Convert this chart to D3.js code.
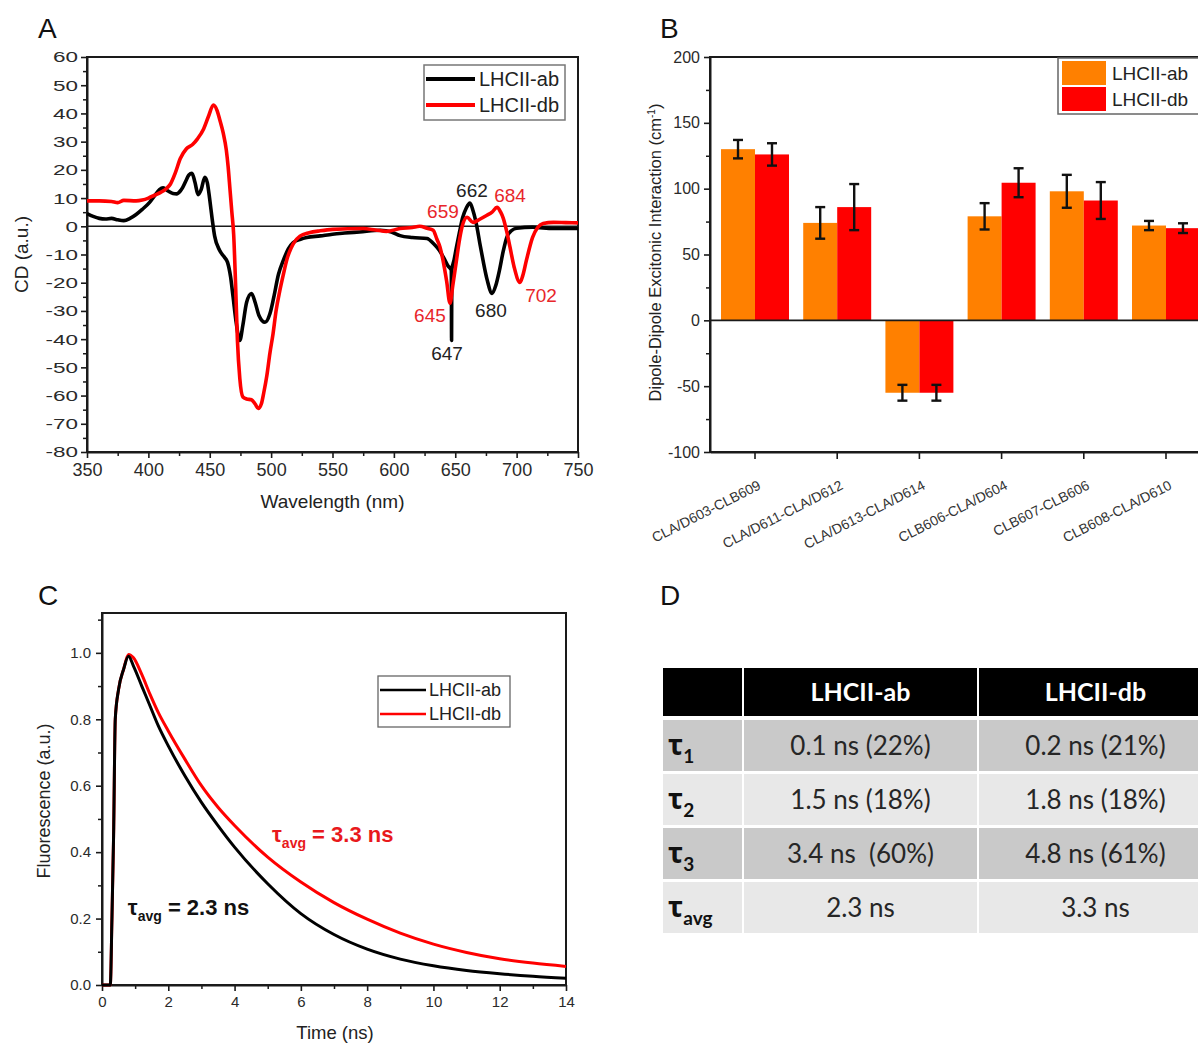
<!DOCTYPE html>
<html><head><meta charset="utf-8">
<script src="https://cdn.jsdelivr.net/npm/d3@7"></script>
<style>
body{margin:0;background:#fff;}
svg{display:block;}
</style></head><body>
<svg id="fig" width="1198" height="1043"></svg>
<script>
// ================= DATA =================
// Panel A: CD spectra [wavelength nm, CD a.u.]
const cdAb = [[350,4.5],[355,3.5],[360,2.8],[365,2.6],[370,2.8],[375,2.3],[380,2.0],[385,2.8],[390,4.2],[395,6.0],[401,8.5],[405,10.8],[409,13.0],[412,13.6],[416,12.5],[420,11.6],[423,11.5],[426,12.5],[428,13.8],[431,16.5],[433,18.2],[435.5,18.8],[438,15.5],[440.5,11.2],[443,13],[446,17.4],[448,15.5],[450,9.5],[452,2.5],[454,-3.5],[458,-8.5],[462,-11],[464.5,-12.8],[467,-18],[469,-25],[471.5,-34],[474.5,-40.5],[477,-35],[480,-27],[484,-23.8],[487,-27],[490,-31.5],[495,-34],[499,-31],[502,-25.5],[506,-17],[510,-12],[514,-8],[518,-5.8],[524,-4.6],[529,-4],[540,-3.4],[550,-2.8],[560,-2.4],[572,-2],[589,-1.4],[598,-2],[605,-3.3],[615,-4],[627,-4.3],[632,-6],[637,-8.5],[641,-11.5],[644,-14],[646.8,-15.5],[647,-40.5],[647.2,-15.5],[649,-12],[651,-7.4],[653.5,-2],[656,3],[659,6.5],[662,8.2],[664.5,5.5],[667.7,-0.3],[670,-6],[672.6,-12],[676,-19],[680,-23.8],[683,-21],[686,-15.6],[689,-9],[692,-3.9],[696,-1.5],[700,-0.7],[713,-0.3],[730,-0.8],[750,-0.8]];
const cdDb = [[350,9],[360,9],[370,8.8],[375,8.4],[380,9.2],[390,9],[395,9.3],[400,10],[405,11],[410,12],[415,13.5],[418,15],[422,19],[426,24],[431,27.5],[436,29],[440,31],[445,34.5],[449,39],[453,43],[456,41],[458,38],[461,33],[463.5,27],[465,21],[466.5,13],[468,5],[469.5,-3],[471,-20],[472.5,-40],[474.5,-54],[477,-60.5],[480,-61.2],[484,-61.5],[487,-63],[489.5,-64.6],[492,-63],[494,-59],[496.5,-53],[499,-45],[501.6,-38],[504,-30],[507,-23],[510,-17],[513,-11.5],[516,-8],[518,-6.2],[523.5,-3.5],[531,-2.3],[540,-1.6],[550,-1.1],[575,-0.8],[585,-1.3],[594,-1.8],[605,-0.8],[615,-0.4],[621,0],[627,-0.7],[632,-1.4],[635,-4.5],[637.6,-7.4],[640,-12],[643,-19.5],[645.7,-27.3],[648,-21],[651,-12],[653,-6],[655.5,-0.3],[659.6,3.2],[664.5,1.4],[670,2.5],[675.8,3.9],[680,5],[684,6.7],[687,5],[689,3],[692,-2],[694.6,-7.4],[698,-14.5],[702.7,-19.9],[705,-17.5],[708,-12],[713,-3.9],[717,-0.5],[721.5,1],[730,1.4],[740,1.3],[750,1.2]];
const seriesNames = ["LHCII-ab","LHCII-db"];
const cdXTicks = [350,400,450,500,550,600,650,700,750];
const cdXMinor = [375,425,475,525,575,625,675,725];
const cdYTicks = [-80,-70,-60,-50,-40,-30,-20,-10,0,10,20,30,40,50,60];
const cdYMinor = [-75,-65,-55,-45,-35,-25,-15,-5,5,15,25,35,45,55];
// peak labels: text, label anchor (wavelength, CD), series
const peakText = ["662","684","659","645","647","680","702"];
const peakAt = [[663.6,10.3],[694.6,8.5],[640,2.8],[629.4,-34],[643.3,-47.5],[679.1,-32.3],[719.9,-27]];
const peakSeries = ["ab","db","db","db","ab","ab","db"];

// Panel B: dipole-dipole excitonic interactions (cm-1)
const pairs = ["CLA/D603-CLB609","CLA/D611-CLA/D612","CLA/D613-CLA/D614","CLB606-CLA/D604","CLB607-CLB606","CLB608-CLA/D610"];
const abValues = [130,74,-55,79,98,72];
const abErrors = [7,12,6,10,12.5,3.5];
const dbValues = [126,86,-55,104.5,91,70];
const dbErrors = [8.5,17.5,6,11,14,3.7];
const bYTicks = [-100,-50,0,50,100,150,200];
const bYMinor = [-75,-25,25,75,125,175];

// Panel C: fluorescence decay
const timeNs = [0,0.25,0.3,0.35,0.4,0.5,0.65,0.8,0.95,1.2,1.45,1.7,2,2.5,3,3.5,4,5,6,7,8,9,10,11,12,13,14];
const flAb = [0,0,0.2,0.45,0.8,0.89,0.95,0.99,0.96,0.9,0.84,0.78,0.72,0.63,0.55,0.48,0.415,0.305,0.215,0.152,0.108,0.078,0.058,0.044,0.034,0.026,0.02];
const flDb = [0,0,0.2,0.45,0.8,0.89,0.95,0.995,0.985,0.935,0.875,0.82,0.765,0.68,0.6,0.535,0.48,0.385,0.31,0.248,0.198,0.156,0.123,0.098,0.079,0.066,0.056];
const cXTicks = [0,2,4,6,8,10,12,14];
const cXMinor = [1,3,5,7,9,11,13];
const cYTicks = [0,0.2,0.4,0.6,0.8,1.0];
const cYMinor = [0.1,0.3,0.5,0.7,0.9,1.1];
const tauAvgAb = "2.3 ns", tauAvgDb = "3.3 ns";

// Panel D: lifetime table
const tableHeader = ["LHCII-ab","LHCII-db"];
const rowSubs = ["1","2","3","avg"];
const abCells = ["0.1 ns (22%)","1.5 ns (18%)","3.4 ns  (60%)","2.3 ns"];
const dbCells = ["0.2 ns (21%)","1.8 ns (18%)","4.8 ns (61%)","3.3 ns"];

// ================= DRAWING =================
const FONT = "'Liberation Sans', Arial, sans-serif";
const svg = d3.select("#fig");
svg.append("rect").attr("width",1198).attr("height",1043).attr("fill","#fff");
const INK = "#1a1a1a";
const RED = "#ff0000";

function styleAxis(g, fs, color){
  g.attr("font-family", null).attr("font-size", null);
  g.select(".domain").attr("stroke", INK).attr("stroke-width", 2);
  g.selectAll(".tick line").attr("stroke", INK).attr("stroke-width", 1.6);
  g.selectAll(".tick text").attr("font-size", fs).attr("fill", color || "#2a2a2a").attr("font-family", FONT);
}
function minorAxis(parent, axisFn, scale, vals, size, transform){
  const g = parent.append("g").attr("transform", transform)
    .call(axisFn(scale).tickValues(vals).tickSize(size).tickSizeOuter(0).tickFormat(""));
  g.select(".domain").remove();
  g.selectAll(".tick line").attr("stroke", INK).attr("stroke-width", 1.5);
}
function panelLetter(t, x, y){
  svg.append("text").attr("x",x).attr("y",y).attr("font-family",FONT).attr("font-size",28).attr("fill","#111").text(t);
}

// ---------- Panel A ----------
{
  const L=87,R=578,T=57,B=452;
  const x = d3.scaleLinear().domain([350,750]).range([L,R]);
  const y = d3.scaleLinear().domain([-80,60]).range([B,T]);
  const g = svg.append("g");
  minorAxis(g, d3.axisBottom, x, cdXMinor, 4, `translate(0,${B})`);
  minorAxis(g, d3.axisLeft, y, cdYMinor, 4, `translate(${L},0)`);
  const gx = g.append("g").attr("transform",`translate(0,${B})`)
    .call(d3.axisBottom(x).tickValues(cdXTicks).tickSize(6).tickPadding(5).tickSizeOuter(0).tickFormat(d=>String(d)));
  styleAxis(gx, 18);
  const gy = g.append("g").attr("transform",`translate(${L},0)`)
    .call(d3.axisLeft(y).tickValues(cdYTicks).tickSize(6).tickPadding(3).tickSizeOuter(0).tickFormat(d=>String(d)));
  styleAxis(gy, 15.5);
  gy.selectAll(".tick text").attr("transform","scale(1.45,1)").attr("x",-9/1.45);
  g.append("rect").attr("x",L).attr("y",T).attr("width",R-L).attr("height",B-T)
    .attr("fill","none").attr("stroke",INK).attr("stroke-width",2);
  g.append("line").attr("x1",x(350)).attr("x2",x(750)).attr("y1",y(0)).attr("y2",y(0))
    .attr("stroke",INK).attr("stroke-width",1.4);
  const line = d3.line().x(d=>x(d[0])).y(d=>y(d[1])).curve(d3.curveMonotoneX);
  g.append("path").datum(cdAb).attr("d",line).attr("fill","none").attr("stroke","#000").attr("stroke-width",3.6).attr("stroke-linejoin","round");
  g.append("path").datum(cdDb).attr("d",line).attr("fill","none").attr("stroke",RED).attr("stroke-width",3.6).attr("stroke-linejoin","round");
  g.selectAll(".pk").data(peakText).enter().append("text")
    .attr("x",(d,i)=>x(peakAt[i][0])).attr("y",(d,i)=>y(peakAt[i][1]))
    .attr("text-anchor","middle").attr("font-family",FONT).attr("font-size",19)
    .attr("fill",(d,i)=>peakSeries[i]==="ab"?"#222":"#e8262a").text(d=>d);
  const lg = g.append("g");
  lg.append("rect").attr("x",424).attr("y",65).attr("width",141).attr("height",55).attr("fill","#fff").attr("stroke","#777").attr("stroke-width",1.5);
  seriesNames.forEach((n,i)=>{
    lg.append("line").attr("x1",426).attr("x2",475).attr("y1",79+i*26).attr("y2",79+i*26)
      .attr("stroke",i?RED:"#000").attr("stroke-width",4);
    lg.append("text").attr("x",479).attr("y",86+i*26).attr("font-family",FONT).attr("font-size",20).attr("fill","#222").text(n);
  });
  g.append("text").attr("transform",`translate(28,${(T+B)/2}) rotate(-90)`).attr("text-anchor","middle")
    .attr("font-family",FONT).attr("font-size",19).attr("fill","#222").text("CD (a.u.)");
  g.append("text").attr("x",(L+R)/2).attr("y",508).attr("text-anchor","middle")
    .attr("font-family",FONT).attr("font-size",19).attr("fill","#222").text("Wavelength (nm)");
  panelLetter("A",38,38);
}

// ---------- Panel B ----------
{
  const L=710,R=1211,T=57,B=452;
  const x = d3.scaleBand().domain(pairs).range([L,R]).paddingInner(0.173).paddingOuter(0.134);
  const xs = d3.scaleBand().domain(["ab","db"]).range([0,x.bandwidth()]);
  const y = d3.scaleLinear().domain([-100,200]).range([B,T]);
  const g = svg.append("g");
  minorAxis(g, d3.axisLeft, y, bYMinor, 4, `translate(${L},0)`);
  const gy = g.append("g").attr("transform",`translate(${L},0)`)
    .call(d3.axisLeft(y).tickValues(bYTicks).tickSize(6).tickPadding(4).tickSizeOuter(0).tickFormat(d=>String(d)));
  styleAxis(gy, 16);
  const gx = g.append("g").attr("transform",`translate(0,${B})`)
    .call(d3.axisBottom(x).tickSize(7).tickSizeOuter(0).tickFormat(""));
  styleAxis(gx, 13);
  g.append("rect").attr("x",L).attr("y",T).attr("width",R-L).attr("height",B-T)
    .attr("fill","none").attr("stroke",INK).attr("stroke-width",2);
  const series = [{k:"ab",v:abValues,e:abErrors,c:"#ff8000"},{k:"db",v:dbValues,e:dbErrors,c:RED}];
  series.forEach(s=>{
    g.selectAll(null).data(pairs).enter().append("rect")
      .attr("x",(p)=>x(p)+xs(s.k)).attr("width",xs.bandwidth())
      .attr("y",(p,i)=>Math.min(y(s.v[i]),y(0))).attr("height",(p,i)=>Math.abs(y(s.v[i])-y(0)))
      .attr("fill",s.c);
  });
  g.append("line").attr("x1",L).attr("x2",R).attr("y1",y(0)).attr("y2",y(0)).attr("stroke",INK).attr("stroke-width",1.8);
  series.forEach(s=>{
    pairs.forEach((p,i)=>{
      const cx = x(p)+xs(s.k)+xs.bandwidth()/2;
      const y1 = y(s.v[i]+s.e[i]), y2 = y(s.v[i]-s.e[i]);
      const eg = g.append("g").attr("stroke","#111").attr("stroke-width",2.4);
      eg.append("line").attr("x1",cx).attr("x2",cx).attr("y1",y1).attr("y2",y2);
      eg.append("line").attr("x1",cx-5).attr("x2",cx+5).attr("y1",y1).attr("y2",y1);
      eg.append("line").attr("x1",cx-5).attr("x2",cx+5).attr("y1",y2).attr("y2",y2);
    });
  });
  g.selectAll(".cl").data(pairs).enter().append("text")
    .attr("transform",p=>`translate(${x(p)+x.bandwidth()/2+2},${B+27}) rotate(-27)`)
    .attr("text-anchor","end").attr("dy","0.75em")
    .attr("font-family",FONT).attr("font-size",14).attr("fill","#333").text(p=>p);
  const lg = g.append("g");
  lg.append("rect").attr("x",1058).attr("y",58).attr("width",200).attr("height",56).attr("fill","#fff").attr("stroke","#666").attr("stroke-width",1.5);
  seriesNames.forEach((n,i)=>{
    lg.append("rect").attr("x",1062).attr("y",61+i*26).attr("width",44).attr("height",24).attr("fill",i?RED:"#ff8000");
    lg.append("text").attr("x",1112).attr("y",80+i*26).attr("font-family",FONT).attr("font-size",19).attr("fill","#222").text(n);
  });
  const yt = g.append("text").attr("transform",`translate(661,${(T+B)/2-2}) rotate(-90)`).attr("text-anchor","middle")
    .attr("font-family",FONT).attr("font-size",16.5).attr("fill","#222");
  yt.append("tspan").text("Dipole-Dipole Excitonic Interaction (cm");
  yt.append("tspan").attr("dy",-6).attr("font-size",10).text("-1");
  yt.append("tspan").attr("dy",6).text(")");
  panelLetter("B",660,38);
}

// ---------- Panel C ----------
{
  const L=102,R=566,T=613,B=985;
  const x = d3.scaleLinear().domain([0,14]).range([L,R]);
  const y = d3.scaleLinear().domain([0,1.12]).range([B,T]);
  const g = svg.append("g");
  minorAxis(g, d3.axisBottom, x, cXMinor, 4, `translate(0,${B})`);
  minorAxis(g, d3.axisLeft, y, cYMinor, 4, `translate(${L},0)`);
  const gx = g.append("g").attr("transform",`translate(0,${B})`)
    .call(d3.axisBottom(x).tickValues(cXTicks).tickSize(6).tickPadding(5).tickSizeOuter(0).tickFormat(d=>String(d)));
  styleAxis(gx, 15);
  const gy = g.append("g").attr("transform",`translate(${L},0)`)
    .call(d3.axisLeft(y).tickValues(cYTicks).tickSize(6).tickPadding(5).tickSizeOuter(0).tickFormat(d3.format(".1f")));
  styleAxis(gy, 15);
  g.append("rect").attr("x",L).attr("y",T).attr("width",R-L).attr("height",B-T)
    .attr("fill","none").attr("stroke",INK).attr("stroke-width",2);
  const line = d3.line().x(d=>x(d[0])).y(d=>y(d[1])).curve(d3.curveMonotoneX);
  g.append("path").datum(d3.zip(timeNs,flDb)).attr("d",line).attr("fill","none").attr("stroke",RED).attr("stroke-width",3);
  g.append("path").datum(d3.zip(timeNs,flAb)).attr("d",line).attr("fill","none").attr("stroke","#000").attr("stroke-width",3);
  const lg = g.append("g");
  lg.append("rect").attr("x",378).attr("y",676).attr("width",132).attr("height",51).attr("fill","#fff").attr("stroke","#666").attr("stroke-width",1.3);
  seriesNames.forEach((n,i)=>{
    lg.append("line").attr("x1",380).attr("x2",426).attr("y1",690+i*24).attr("y2",690+i*24).attr("stroke",i?RED:"#000").attr("stroke-width",2.5);
    lg.append("text").attr("x",429).attr("y",696+i*24).attr("font-family",FONT).attr("font-size",18).attr("fill","#222").text(n);
  });
  function tauLabel(xp, yp, val, col){
    const t = g.append("text").attr("x",xp).attr("y",yp).attr("font-family",FONT).attr("font-weight","bold").attr("font-size",22).attr("fill",col);
    t.append("tspan").text("τ");
    t.append("tspan").attr("dy",6).attr("font-size",14).text("avg");
    t.append("tspan").attr("dy",-6).text(" = " + val);
  }
  tauLabel(x(5.13), y(0.43), tauAvgDb, "#e8191c");
  tauLabel(x(0.78), y(0.21), tauAvgAb, "#111");
  g.append("text").attr("transform",`translate(50,${(T+B)/2+2}) rotate(-90)`).attr("text-anchor","middle")
    .attr("font-family",FONT).attr("font-size",18).attr("fill","#222").text("Fluorescence (a.u.)");
  g.append("text").attr("x",335).attr("y",1039).attr("text-anchor","middle")
    .attr("font-family",FONT).attr("font-size",18.5).attr("fill","#222").text("Time (ns)");
  panelLetter("C",38,605);
}

// ---------- Panel D ----------
{
  const TF = "Lato, 'Noto Sans', sans-serif";
  const cols = [[663,742],[744,977],[979,1212]];
  const headTop = 668, headBot = 716;
  const rowTop = [720,774,828,882], rowH = 51;
  const rowFill = ["#c9c9c9","#e8e8e8","#c9c9c9","#e8e8e8"];
  const g = svg.append("g");
  cols.forEach(c=>g.append("rect").attr("x",c[0]).attr("y",headTop).attr("width",c[1]-c[0]).attr("height",headBot-headTop).attr("fill","#000"));
  tableHeader.forEach((h,i)=>{
    const c = cols[i+1];
    g.append("text").attr("x",(c[0]+c[1])/2).attr("y",headBot-15).attr("text-anchor","middle")
      .attr("font-family",TF).attr("font-weight","bold").attr("font-size",25).attr("fill","#fff").text(h);
  });
  rowSubs.forEach((s,r)=>{
    cols.forEach(c=>g.append("rect").attr("x",c[0]).attr("y",rowTop[r]).attr("width",c[1]-c[0]).attr("height",rowH).attr("fill",rowFill[r]));
    const t = g.append("text").attr("x",668).attr("y",rowTop[r]+35).attr("font-family",TF).attr("font-weight","bold").attr("font-size",28).attr("fill","#111");
    t.append("tspan").attr("font-family","'Noto Sans', sans-serif").text("τ");
    t.append("tspan").attr("dy",8).attr("font-size",19).text(s);
    [abCells[r], dbCells[r]].forEach((v,i)=>{
      const c = cols[i+1];
      g.append("text").attr("x",(c[0]+c[1])/2).attr("y",rowTop[r]+35).attr("text-anchor","middle")
        .attr("font-family",TF).attr("font-size",26).attr("fill","#262626").style("white-space","pre").text(v);
    });
  });
  panelLetter("D",660,605);
}
</script>
</body></html>
